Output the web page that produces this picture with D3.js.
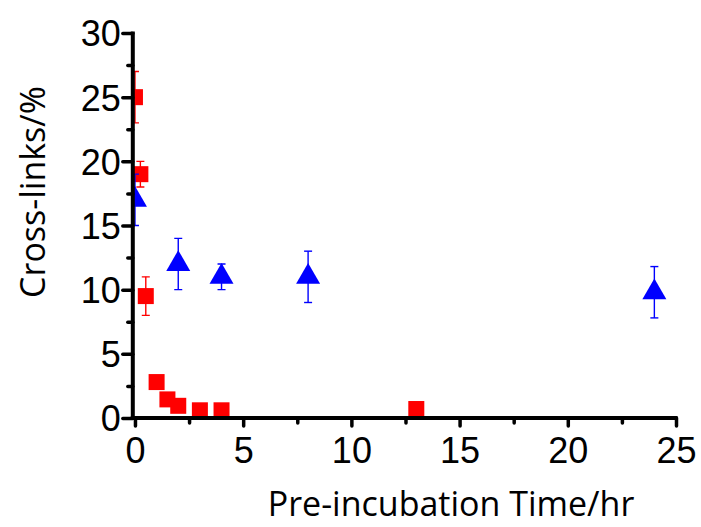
<!DOCTYPE html>
<html>
<head>
<meta charset="utf-8">
<script src="https://cdn.jsdelivr.net/npm/d3@7"></script>
<style>
  html, body { margin: 0; padding: 0; background: #fff; }
  svg { display: block; }
</style>
</head>
<body>
<svg id="chart" width="701" height="527"></svg>
<script>
// ---- data ----
const redX   = [0, 0.25, 0.5, 1, 1.5, 2, 3, 4, 13];
const redY   = [25, 19, 9.5, 2.8, 1.45, 0.95, 0.6, 0.6, 0.7];
const redErr = [2, 1, 1.5, 0.2, 0.2, 0.2, 0.15, 0.15, 0.15];

const blueX   = [0, 2, 4, 8, 24];
const blueY   = [17, 12, 11, 11, 9.8];
const blueErr = [2, 2, 1, 2, 2];

const xTicks = [0, 5, 10, 15, 20, 25];
const xMinor = [2.5, 7.5, 12.5, 17.5, 22.5];
const yTicks = [0, 5, 10, 15, 20, 25, 30];
const yMinor = [2.5, 7.5, 12.5, 17.5, 22.5, 27.5];

const xTitle = "Pre-incubation Time/hr";
const yTitle = "Cross-links/%";

// ---- layout ----
const svg = d3.select("#chart");
const x = d3.scaleLinear().domain([-0.1, 25]).range([132.8, 676]);
const y = d3.scaleLinear().domain([0, 30]).range([418, 33]);

const defs = svg.append("defs");
defs.append("clipPath").attr("id", "plotclip")
  .append("rect").attr("x", x(-0.1)).attr("y", 0).attr("width", 701 - x(-0.1)).attr("height", 527);

const plot = svg.append("g").attr("clip-path", "url(#plotclip)");

function series(xs, ys, es, color, shape) {
  const data = xs.map((d, i) => ({ x: d, y: ys[i], e: es[i] }));
  const g = plot.append("g");
  const cap = 4;
  const eb = g.selectAll("g.eb").data(data).join("g").attr("class", "eb")
    .attr("stroke", color).attr("stroke-width", 1.4).attr("fill", "none");
  eb.append("line")
    .attr("x1", d => x(d.x)).attr("x2", d => x(d.x))
    .attr("y1", d => y(d.y + d.e)).attr("y2", d => y(d.y - d.e));
  eb.append("line")
    .attr("x1", d => x(d.x) - cap).attr("x2", d => x(d.x) + cap)
    .attr("y1", d => y(d.y + d.e)).attr("y2", d => y(d.y + d.e));
  eb.append("line")
    .attr("x1", d => x(d.x) - cap).attr("x2", d => x(d.x) + cap)
    .attr("y1", d => y(d.y - d.e)).attr("y2", d => y(d.y - d.e));
  if (shape === "square") {
    const s = 16;
    g.selectAll("rect.m").data(data).join("rect").attr("class", "m")
      .attr("x", d => x(d.x) - s / 2).attr("y", d => y(d.y) - s / 2)
      .attr("width", s).attr("height", s).attr("fill", color);
  } else {
    const base = 24, h = base * Math.sqrt(3) / 2;
    g.selectAll("path.m").data(data).join("path").attr("class", "m")
      .attr("transform", d => `translate(${x(d.x)},${y(d.y)})`)
      .attr("d", `M0,${-2 * h / 3}L${base / 2},${h / 3}L${-base / 2},${h / 3}Z`)
      .attr("fill", color);
  }
}

series(redX, redY, redErr, "#ff0000", "square");
series(blueX, blueY, blueErr, "#0000ff", "triangle");

// ---- axes ----
const tickFont = "'Liberation Sans', Arial, sans-serif";

function styleAxis(g, w) {
  g.selectAll("line").attr("stroke", "#000").attr("stroke-width", w).attr("stroke-linecap", "round");
  g.selectAll("path.domain").remove();
}

const yAxisG = svg.append("g").attr("transform", `translate(${x(-0.1)},0)`);
yAxisG.call(d3.axisLeft(y).tickValues(yTicks).tickSize(10).tickPadding(2).tickFormat(d3.format("d")));
styleAxis(yAxisG, 3.5);
yAxisG.selectAll("text").attr("font-family", tickFont).attr("font-size", 36).attr("fill", "#000").attr("dy", "0.36em");
const yMinorG = svg.append("g").attr("transform", `translate(${x(-0.1)},0)`);
yMinorG.call(d3.axisLeft(y).tickValues(yMinor).tickSize(5).tickFormat(""));
styleAxis(yMinorG, 3.5);

const xAxisG = svg.append("g").attr("transform", `translate(0,${y(0)})`);
xAxisG.call(d3.axisBottom(x).tickValues(xTicks).tickSize(8).tickPadding(11).tickFormat(d3.format("d")));
styleAxis(xAxisG, 3.5);
xAxisG.selectAll("text").attr("font-family", tickFont).attr("font-size", 36).attr("fill", "#000");
const xMinorG = svg.append("g").attr("transform", `translate(0,${y(0)})`);
xMinorG.call(d3.axisBottom(x).tickValues(xMinor).tickSize(5).tickFormat(""));
styleAxis(xMinorG, 3.5);

svg.append("line")
  .attr("x1", x(-0.1)).attr("x2", x(-0.1))
  .attr("y1", y(30) - 1.5).attr("y2", y(0) + 2)
  .attr("stroke", "#000").attr("stroke-width", 4);
svg.append("line")
  .attr("x1", x(-0.1) - 2).attr("x2", x(25) + 1.5)
  .attr("y1", y(0)).attr("y2", y(0))
  .attr("stroke", "#000").attr("stroke-width", 4);

// titles
const titleFont = "'Open Sans', 'Noto Sans', sans-serif";
svg.append("text")
  .attr("x", 451).attr("y", 516)
  .attr("text-anchor", "middle")
  .attr("font-family", titleFont).attr("font-size", 34).attr("fill", "#000")
  .text(xTitle);
svg.append("text")
  .attr("transform", "translate(45,192) rotate(-90)")
  .attr("text-anchor", "middle")
  .attr("font-family", titleFont).attr("font-size", 34).attr("fill", "#000")
  .text(yTitle);
</script>
</body>
</html>
